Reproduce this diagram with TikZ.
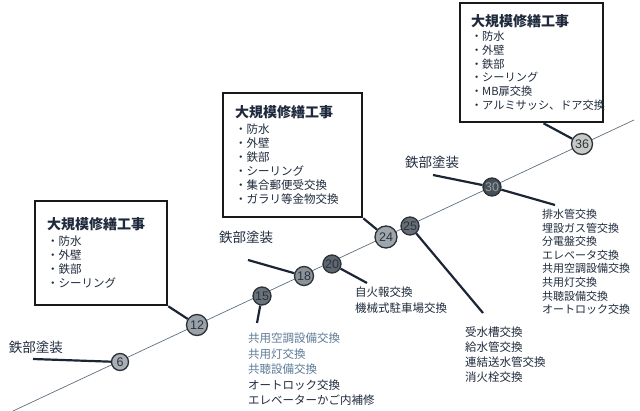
\documentclass[tikz,border=0pt]{standalone}
\usepackage{fontspec}
\setmainfont{Noto Sans CJK JP}
\newfontfamily\numfont{Liberation Sans}
\usetikzlibrary{backgrounds}
\definecolor{ink}{HTML}{1E2A3C}
\definecolor{leadc}{HTML}{1C2535}
\definecolor{tlc}{HTML}{5E6E7E}
\definecolor{circb}{HTML}{2B3138}
\definecolor{numc}{HTML}{2A3340}
\definecolor{numl}{HTML}{9AA0A6}
\definecolor{lightc}{HTML}{5C7A96}
\definecolor{fA}{HTML}{A9AFB4}
\definecolor{fB}{HTML}{9AA1A7}
\definecolor{fC}{HTML}{6A7178}
\definecolor{fD}{HTML}{8B9298}
\definecolor{fE}{HTML}{5F666D}
\definecolor{fF}{HTML}{9FA6AB}
\definecolor{fG}{HTML}{676E75}
\definecolor{fH}{HTML}{464E56}
\definecolor{fI}{HTML}{C9C9C5}
\begin{document}
\begin{tikzpicture}[x=1pt,y=-1pt,
  num/.style={circle, draw=circb, line width=1.3pt, inner sep=0pt, minimum size=#1, text=numc,
    font=\numfont\fontsize{12.5}{12.5}\selectfont},
  bigbox/.style={draw=black!90, line width=2.6pt, inner xsep=12pt, inner ysep=0pt, align=left, text=ink,
    font=\fontsize{11.5}{14}\selectfont},
  leadline/.style={line width=2.2pt, draw=leadc},
  tline/.style={line width=0.7pt, draw=tlc},
  lbl/.style={anchor=north west, inner sep=0pt, align=left, text=ink},
  paint/.style={inner sep=0pt, text=ink, font=\fontsize{13.5}{13.5}\selectfont}]
\useasboundingbox (0,0) rectangle (640,411);

% circles
\node[num=17pt, fill=fA] (c6)  at (120,362) {6};
\node[num=21pt, fill=fB] (c12) at (197,325) {12};
\node[num=18pt, fill=fC] (c15) at (262,296) {15};
\node[num=19pt, fill=fD] (c18) at (304,276) {18};
\node[num=18pt, fill=fE] (c20) at (332,264) {20};
\node[num=22pt, fill=fF] (c24) at (386,237) {24};
\node[num=18pt, fill=fG] (c25) at (410,226) {25};
\node[num=18pt, fill=fH, text=numl] (c30) at (492,187) {30};
\node[num=21pt, fill=fI] (c36) at (582,144) {36};

% timeline
\coordinate (t0) at (13,411);
\coordinate (t1) at (634,120);
\begin{scope}[on background layer]
\draw[tline] (t0) -- (t1);
\end{scope}

% boxes
\node[bigbox, minimum width=132pt, minimum height=104pt, text width=108pt] (b1) at (101,253)
 {{\fontsize{14}{17}\selectfont\bfseries 大規模修繕工事}\\[2pt]
  ・防水\\ ・外壁\\ ・鉄部\\ ・シーリング};
\node[bigbox, minimum width=139pt, minimum height=124pt, text width=115pt] (b2) at (292.5,155)
 {{\fontsize{14}{17}\selectfont\bfseries 大規模修繕工事}\\[2pt]
  ・防水\\ ・外壁\\ ・鉄部\\ ・シーリング\\ ・集合郵便受交換\\ ・ガラリ等金物交換};
\node[bigbox, minimum width=143pt, minimum height=119pt, text width=121pt, inner xsep=11pt,
      font=\fontsize{11.2}{13.8}\selectfont] (b3) at (531.5,62.5)
 {{\fontsize{14}{17}\selectfont\bfseries 大規模修繕工事}\\[0pt]
  ・防水\\ ・外壁\\ ・鉄部\\ ・シーリング\\ ・MB扉交換\\ ・アルミサッシ、ドア交換};

% box connectors
\coordinate (q36) at ([xshift=12pt]b3.south);
\draw[leadline] (b1.south east) -- (c12);
\draw[leadline] (b2.south east) -- (c24);
\draw[leadline] (q36) -- (c36);

% 鉄部塗装 labels
\node[paint] (l6)  at (36,347)  {鉄部塗装};
\node[paint] (l18) at (246,237) {鉄部塗装};
\node[paint] (l30) at (432,162) {鉄部塗装};
\coordinate (p6)  at (33,359);
\coordinate (p18) at (248,260);
\coordinate (p30) at (433,175);
\draw[leadline] (p6) -- (c6);
\draw[leadline] (p18) -- (c18);
\draw[leadline] (p30) -- (c30);

% other leads
\coordinate (q15) at (257,323);
\coordinate (q20) at (367,283);
\coordinate (q25) at (483,313);
\coordinate (q30) at (555,205);
\draw[leadline] (c15) -- (q15);
\draw[leadline] (c20) -- (q20);
\draw[leadline] (c25) -- (q25);
\draw[leadline] (c30) -- (q30);

% lists
\node[lbl, font=\fontsize{11.5}{15.5}\selectfont] (l15) at (248,333)
 {{\color{lightc}共用空調設備交換}\\ {\color{lightc}共用灯交換}\\ {\color{lightc}共聴設備交換}\\
  オートロック交換\\ エレベーターかご内補修};
\node[lbl, font=\fontsize{11.5}{16}\selectfont] (l20) at (355,287)
 {自火報交換\\ 機械式駐車場交換};
\node[lbl, font=\fontsize{11.5}{15}\selectfont] (l25) at (465,327)
 {受水槽交換\\ 給水管交換\\ 連結送水管交換\\ 消火栓交換};
\node[lbl, font=\fontsize{11}{13.6}\selectfont] (l30b) at (542,209)
 {排水管交換\\ 埋設ガス管交換\\ 分電盤交換\\ エレベータ交換\\ 共用空調設備交換\\ 共用灯交換\\ 共聴設備交換\\ オートロック交換};
\end{tikzpicture}
\end{document}
